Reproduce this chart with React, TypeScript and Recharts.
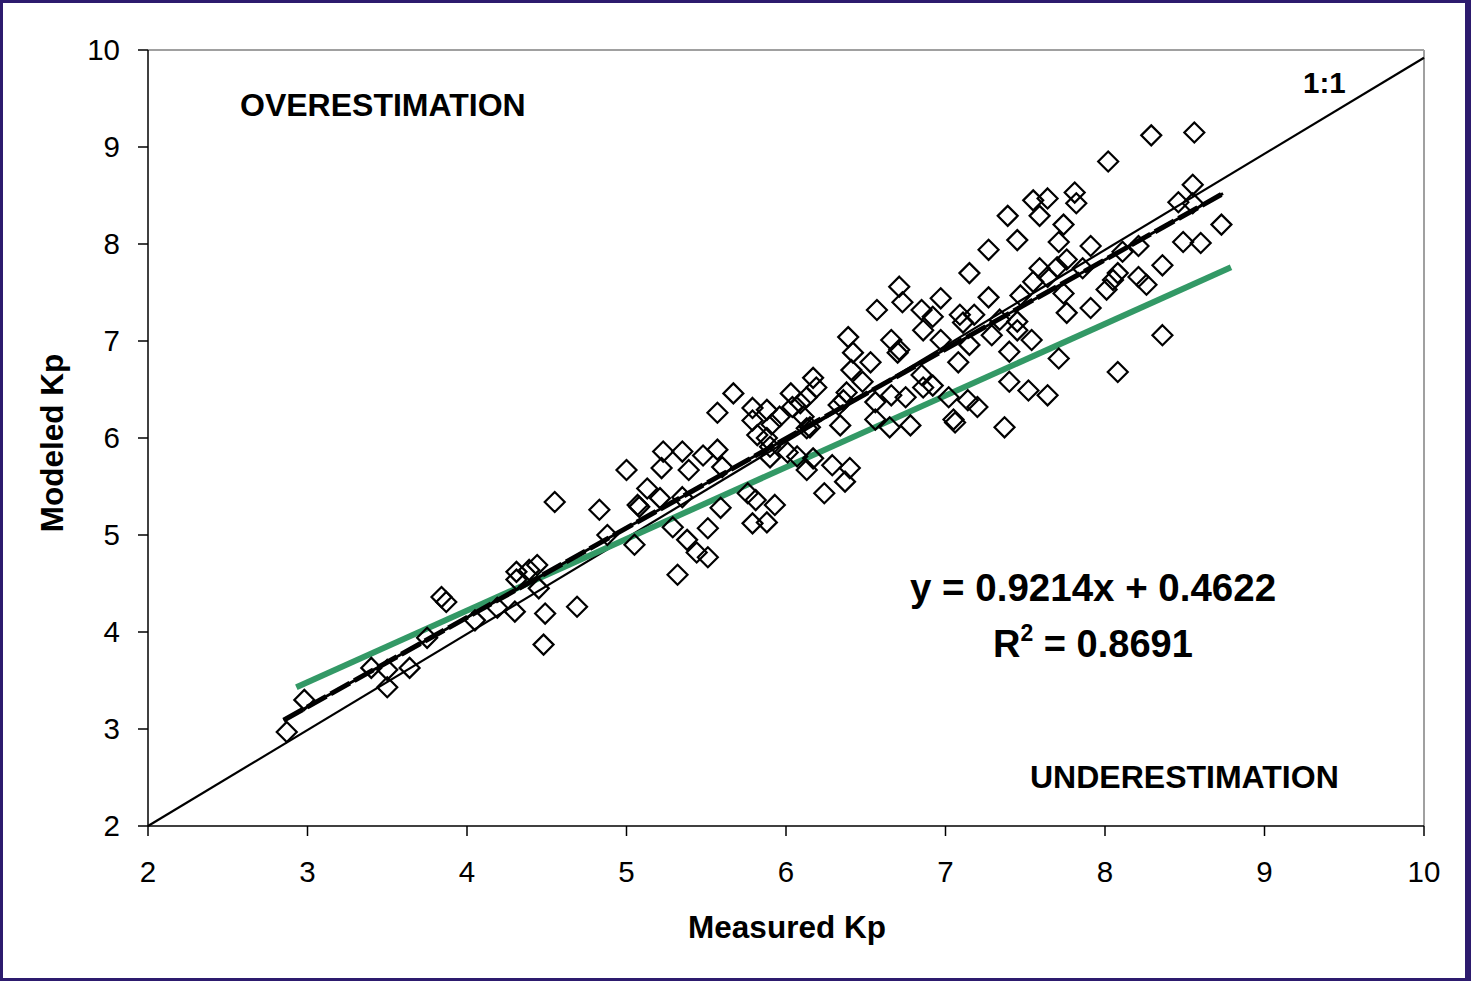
import React from 'react';
import { ScatterChart, Scatter, XAxis, YAxis, ReferenceLine } from 'recharts';

const measuredKp = [
  2.87, 2.98, 3.40, 3.50, 3.50, 3.64, 3.75, 3.84, 3.87, 4.05,
  4.19, 4.30, 4.31, 4.31, 4.39, 4.44, 4.45, 4.49, 4.69, 4.48,
  4.55, 4.83, 5.00, 4.88, 5.05, 5.07, 5.08, 5.13, 5.21, 5.22,
  5.23, 5.35, 5.39, 5.48, 5.57, 5.60, 5.35, 5.29, 5.38, 5.44,
  5.51, 5.51, 5.59, 5.76, 5.81, 5.79, 5.88, 5.93, 5.32,
  5.57, 5.67, 5.79, 5.88, 5.96, 5.79, 5.91, 5.82, 5.88, 6.03,
  6.09, 6.17, 6.19, 6.04, 6.11, 6.15, 5.90, 5.90, 6.01, 6.07,
  6.13, 6.17, 6.29, 6.40, 6.37, 6.24, 6.34, 6.36, 6.39, 6.42,
  6.41, 6.48, 6.38, 6.53,
  6.57, 6.66, 6.70, 6.66, 6.56, 6.65, 6.71, 6.73, 6.78, 6.75,
  6.86, 6.92, 7.02, 7.14, 7.20, 7.06, 7.08, 6.85, 6.97, 6.85,
  6.92, 7.27, 7.09, 7.18, 7.47, 7.59, 7.70, 7.55, 7.64, 7.74,
  7.76, 7.91, 7.45, 7.34, 7.29, 7.11, 6.86, 6.97, 7.15, 7.45,
  7.54, 7.40, 7.71, 6.71, 6.13, 6.33, 7.40, 7.52, 7.64, 7.05,
  7.37, 6.13, 7.15,
  8.02, 8.55, 8.46, 8.55, 8.73, 8.49, 8.60, 7.55, 7.64, 7.81,
  7.82, 7.39, 7.59, 7.74, 7.45, 7.71, 7.27, 7.91, 8.21, 7.76,
  8.11, 8.36, 8.08, 8.21, 8.26, 8.01, 8.36, 8.08, 8.29, 8.56,
  7.86, 8.05, 6.56,
];

const modeledKp = [
  2.97, 3.30, 3.63, 3.43, 3.61, 3.63, 3.94, 4.36, 4.31, 4.12,
  4.25, 4.21, 4.62, 4.54, 4.64, 4.69, 4.45, 4.19, 4.26, 3.87,
  5.34, 5.26, 5.67, 5.00, 4.90, 5.31, 5.29, 5.48, 5.38, 5.69,
  5.86, 5.86, 5.67, 5.82, 5.88, 5.70, 5.39, 5.08, 4.95, 4.82,
  4.77, 5.07, 5.28, 5.43, 5.36, 5.12, 5.13, 5.31, 4.59,
  6.26, 6.46, 6.31, 6.29, 6.22, 6.18, 6.14, 6.03, 6.00, 6.46,
  6.36, 6.62, 6.52, 6.32, 6.22, 6.11, 5.91, 5.80, 5.85, 5.81,
  5.67, 5.79, 5.72, 5.69, 5.55, 5.43, 6.13, 6.39, 7.04, 6.88,
  6.70, 6.58, 6.47, 6.78,
  7.32, 7.01, 6.88, 6.44, 6.19, 6.11, 7.56, 7.40, 6.13, 6.42,
  6.52, 6.54, 6.42, 6.39, 6.32, 6.16, 6.78, 6.65, 7.44, 7.32,
  7.25, 7.45, 7.27, 7.27, 7.47, 7.75, 7.76, 7.61, 7.66, 7.49,
  7.29, 7.34, 7.20, 7.22, 7.06, 7.19, 7.11, 7.01, 6.96, 7.11,
  7.01, 6.89, 6.82, 6.91, 6.42, 6.34, 6.58, 6.49, 6.44, 6.19,
  6.11, 6.10, 7.70,
  8.85, 8.61, 8.43, 8.42, 8.20, 8.02, 8.01, 8.45, 8.47, 8.53,
  8.42, 8.29, 8.29, 8.20, 8.04, 8.02, 7.94, 7.98, 7.98, 7.84,
  7.92, 7.78, 7.70, 7.66, 7.58, 7.53, 7.06, 6.68, 9.12, 9.15,
  7.75, 7.63, 6.37,
];

const axisTicks = [2, 3, 4, 5, 6, 7, 8, 9, 10];
const oneToOneLine = [{ x: 2, y: 2 }, { x: 10, y: 9.92 }];
const trendLine = [{ x: 2.85, y: 3.09 }, { x: 8.74, y: 8.52 }];
const greenLine = [{ x: 2.93, y: 3.43 }, { x: 8.79, y: 7.76 }];

const points = measuredKp.map((m, i) => ({ x: m, y: modeledKp[i] }));

const FONT = '"Liberation Sans", Arial, Helvetica, sans-serif';

const Diamond = (props: any) => {
  const { cx, cy } = props;
  if (cx == null || cy == null) return null;
  const r = 10;
  return (
    <path
      d={`M${cx},${cy - r}L${cx + r},${cy}L${cx},${cy + r}L${cx - r},${cy}Z`}
      fill="none"
      stroke="#000"
      strokeWidth={2.2}
    />
  );
};

export default function App() {
  return (
    <div style={{ position: 'absolute', left: 0, top: 0, width: 1471, height: 981, background: '#fff' }}>
      <ScatterChart
        width={1471}
        height={981}
        margin={{ top: 50, right: 47, bottom: 95, left: 0 }}
      >
        <XAxis
          dataKey="x"
          type="number"
          domain={[2, 10]}
          ticks={axisTicks}
          interval={0}
          allowDataOverflow
          height={60}
          tickSize={10}
          tickMargin={25}
          tick={{ fill: '#000', fontSize: 29.5, fontFamily: FONT }}
          axisLine={{ stroke: '#000', strokeWidth: 1.5 }}
          tickLine={{ stroke: '#000', strokeWidth: 1.5 }}
        />
        <YAxis
          dataKey="y"
          type="number"
          domain={[2, 10]}
          ticks={axisTicks}
          interval={0}
          allowDataOverflow
          width={148}
          tickSize={10}
          tickMargin={18}
          tick={{ fill: '#000', fontSize: 29.5, fontFamily: FONT }}
          axisLine={{ stroke: '#000', strokeWidth: 1.5 }}
          tickLine={{ stroke: '#000', strokeWidth: 1.5 }}
        />
        <ReferenceLine y={10} stroke="#a0a0a0" strokeWidth={2} />
        <ReferenceLine x={10} stroke="#a0a0a0" strokeWidth={2} />
        <Scatter data={points} shape={Diamond} isAnimationActive={false} />
        <ReferenceLine segment={oneToOneLine} stroke="#000" strokeWidth={2.2} />
        <ReferenceLine segment={greenLine} stroke="#339966" strokeWidth={6} />
        <ReferenceLine segment={trendLine} stroke="#000" strokeWidth={2.8} />
        <ReferenceLine segment={trendLine} stroke="#000" strokeWidth={5} strokeDasharray="22 5" />
      </ScatterChart>
      <svg
        width={1471}
        height={981}
        style={{ position: 'absolute', left: 0, top: 0, pointerEvents: 'none' }}
        fontFamily={FONT}
      >
        <text x={240} y={116} fontSize={32} fontWeight="bold" fill="#000">OVERESTIMATION</text>
        <text x={1030} y={788} fontSize={32} fontWeight="bold" fill="#000">UNDERESTIMATION</text>
        <text x={1303} y={93} fontSize={29.5} fontWeight="bold" fill="#000">1:1</text>
        <text x={910} y={601} fontSize={38.5} fontWeight="bold" fill="#000">y = 0.9214x + 0.4622</text>
        <text x={993} y={657} fontSize={38} fontWeight="bold" fill="#000">
          R<tspan fontSize={23} dy={-16}>2</tspan><tspan dy={16}> = 0.8691</tspan>
        </text>
        <text x={787} y={938} fontSize={31.5} fontWeight="bold" fill="#000" textAnchor="middle">Measured Kp</text>
        <text
          x={0}
          y={0}
          fontSize={31.5}
          fontWeight="bold"
          fill="#000"
          textAnchor="middle"
          transform="translate(63,443) rotate(-90)"
        >
          Modeled Kp
        </text>
      </svg>
      <div
        style={{
          position: 'absolute',
          left: 0,
          top: 0,
          width: 1471,
          height: 981,
          boxSizing: 'border-box',
          borderStyle: 'solid',
          borderColor: '#2d1b6e',
          borderWidth: '3px 6px 3px 3px',
          pointerEvents: 'none',
        }}
      />
    </div>
  );
}
